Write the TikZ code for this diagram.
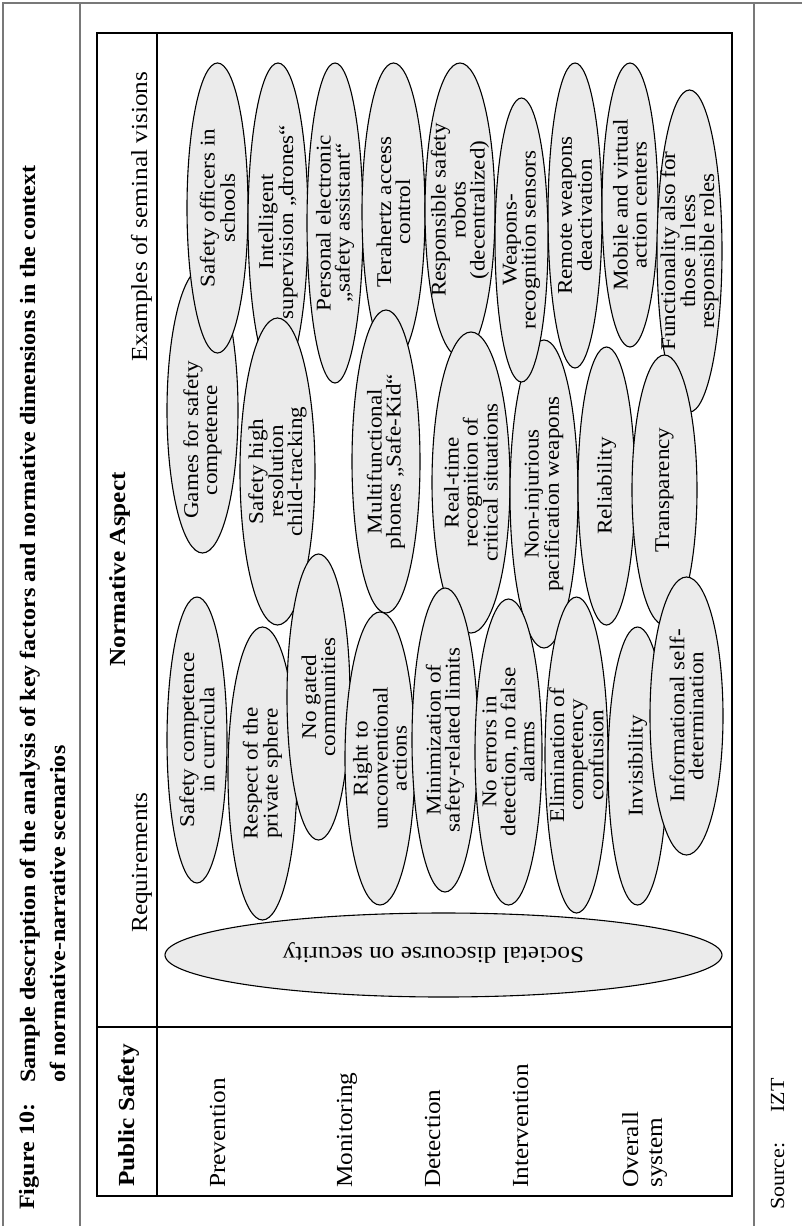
\documentclass[tikz,border=0pt]{standalone}
\usepackage{fontspec}
\setmainfont{Liberation Serif}
\definecolor{ovalgray}{RGB}{235,235,235}
\definecolor{framegray}{RGB}{120,120,120}
\newcommand\myoval[7]{%
  \path[ovalshape] (#2,#3) ellipse [x radius=#4pt, y radius=#5pt];
  \node[ovaltext] (#1) at (#2,#6) {#7};}
\begin{document}
\begin{tikzpicture}[x=1pt,y=-1pt,
  ovalshape/.style={draw=black, line width=1.1pt, fill=ovalgray},
  ovaltext/.style={rotate=90, xscale=1.1, align=center, inner sep=0pt, font=\fontsize{21}{19}\selectfont},
  rtext/.style={rotate=90, xscale=1.1, inner sep=0pt, anchor=base west, font=\fontsize{23}{24}\selectfont},
  rbold/.style={rtext, font=\fontsize{23}{24}\selectfont\bfseries},
  ttext/.style={rotate=90, xscale=1.1, inner sep=0pt, anchor=base west, font=\fontsize{21.9}{24}\selectfont\bfseries},
  stext/.style={rotate=90, xscale=1.1, inner sep=0pt, font=\fontsize{20}{22}\selectfont},
  frameline/.style={draw=framegray, line width=1.2pt},
  tableline/.style={draw=black, line width=2pt}]
\useasboundingbox (0,0) rectangle (802,1226);
\fill[white] (0,0) rectangle (802,1226);
% outer grey frame
\draw[frameline] (3,1226) -- (3,3) -- (802,3);
\draw[frameline] (80,3) -- (80,1226);
\draw[frameline] (754,3) -- (754,1226);
% title
\node[ttext] (fig) at (34,1210) {Figure 10:};
\node[ttext] (title1) at (35,1083) {Sample description of the analysis of key factors and normative dimensions in the context};
\node[ttext] (title2) at (65,1083) {of normative-narrative scenarios};
% table
\draw[tableline] (97,33) rectangle (732,1196);
\draw[tableline] (157,33) -- (157,1196);
\draw[tableline] (97,1027) -- (732,1027);
% headers
\node[rbold] (ps) at (134,1187) {Public Safety};
\node[rtext] (req) at (147,933) {Requirements};
\node[rbold] (norm) at (125,667) {Normative Aspect};
\node[rtext] (ex) at (147,362) {Examples of seminal visions};
% row labels
\node[rtext] (prev) at (225,1188) {Prevention};
\node[rtext] (mon) at (352,1188) {Monitoring};
\node[rtext] (det) at (440,1188) {Detection};
\node[rtext] (int) at (528,1188) {Intervention};
\node[rtext] (ov1) at (638,1188) {Overall};
\node[rtext] (ov2) at (662,1188) {system};
% ellipses: examples
\myoval{games}{202.5}{410.5}{35.5}{142.5}{440}{Games for safety\\competence}
\myoval{e1}{217.5}{208}{30.5}{145}{208}{Safety officers in\\schools}
\myoval{e2}{278}{222}{30}{159}{222}{Intelligent\\supervision „drones“}
\myoval{e3}{335}{223}{28}{160}{223}{Personal electronic\\„safety assistant“}
\myoval{e4}{393.5}{212}{31.5}{149}{212}{Terahertz access\\control}
\myoval{e5}{460}{210}{35}{147}{210}{Responsible safety\\robots\\(decentralized)}
\myoval{e7}{575}{215.5}{27}{152.5}{215.5}{Remote weapons\\deactivation}
\myoval{e8}{630}{205}{28}{142}{205}{Mobile and virtual\\action centers}
\myoval{e9}{689.5}{251}{32.5}{161}{251}{Functionality also for\\those in less\\responsible roles}
% normative middle
\myoval{shigh}{277.5}{471.5}{37.5}{153.5}{471.5}{Safety high\\resolution\\child-tracking}
\myoval{multi}{386}{461.5}{34}{151.5}{461.5}{Multifunctional\\phones „Safe-Kid“}
\myoval{rtime}{471}{482.5}{39}{150.5}{482.5}{Real-time\\recognition of\\critical situations}
\myoval{noninj}{544}{494}{34}{154}{494}{Non-injurious\\pacification weapons}
\myoval{e6}{521.5}{240}{26.5}{142}{240}{Weapons-\\recognition sensors}
\myoval{rel}{606.5}{486}{28.5}{139}{486}{Reliability}
\myoval{trans}{664.5}{490}{32.5}{135}{490}{Transparency}
% requirements
\myoval{r1}{197}{740}{30}{143}{740}{Safety competence\\in curricula}
\myoval{r2}{262.5}{773.5}{34.5}{146.5}{773.5}{Respect of the\\private sphere}
\myoval{r3}{318.5}{697}{31.5}{143}{697}{No gated\\communities}
\myoval{r4}{380}{758.5}{35}{146.5}{758.5}{Right to\\unconventional\\actions}
\myoval{r5}{445}{740}{33}{152}{740}{Minimization of\\safety-related limits}
\myoval{r6}{508.5}{752}{33.5}{153}{752}{No errors in\\detection, no false\\alarms}
\myoval{r7}{576.5}{755}{31.5}{158}{755}{Elimination of\\competency\\confusion}
\myoval{r8}{637.5}{766}{29.5}{139}{766}{Invisibility}
\myoval{r9}{686.5}{716}{36.5}{139}{716}{Informational self-\\determination}
% societal
\path[ovalshape] (443.5,955) ellipse [x radius=278.5pt, y radius=42pt];
\node[rotate=180, xscale=1.1, inner sep=0pt, font=\fontsize{23}{24}\selectfont] (soc) at (433.5,953) {Societal discourse on security};
% source
\node[stext, anchor=base west] (src) at (784,1210) {Source:};
\node[stext, anchor=base east] (izt) at (784,1078) {IZT};
\end{tikzpicture}
\end{document}
